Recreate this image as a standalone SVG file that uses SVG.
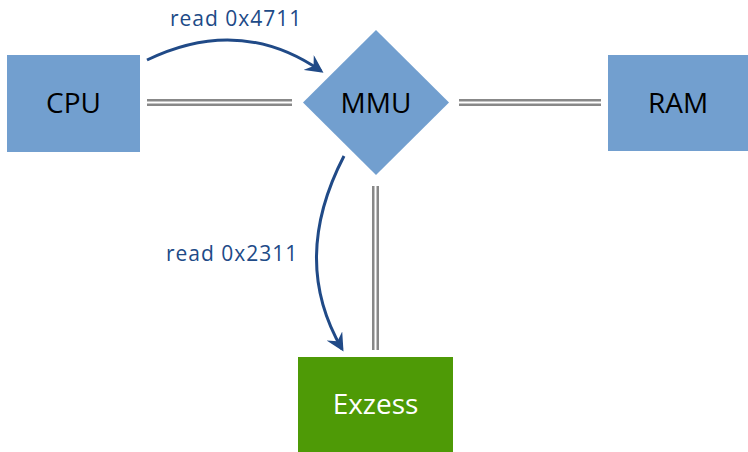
<svg xmlns="http://www.w3.org/2000/svg" width="748" height="452" viewBox="0 0 748 452">
<style>
.box{fill:#729fcf}
.green{fill:#4e9a06}
.lbl{font-family:"Open Sans","DejaVu Sans",sans-serif;font-size:28px;text-anchor:middle}
.elbl{font-family:"Open Sans","DejaVu Sans",sans-serif;font-size:21px;letter-spacing:1px;fill:#204a87}
.outer{stroke:#888888;stroke-width:7;fill:none}
.inner{stroke:#ffffff;stroke-width:2;fill:none}
.arr{stroke:#204a87;stroke-width:3;fill:none;marker-end:url(#ah)}
</style>
<defs>
<marker id="ah" viewBox="0 0 12 12" refX="10" refY="6" markerWidth="6" markerHeight="6" orient="auto" markerUnits="strokeWidth">
<path d="M0,0 L12,6 L0,12 L4,6 Z" fill="#204a87"/>
</marker>
</defs>
<rect width="748" height="452" fill="#ffffff"/>
<g id="connectors">
<path class="outer" d="M147,102.5 H292"/>
<path class="inner" d="M147,102.5 H292"/>
<path class="outer" d="M459,102.5 H601"/>
<path class="inner" d="M459,102.5 H601"/>
<path class="outer" d="M375.5,186 V350"/>
<path class="inner" d="M375.5,186 V350"/>
<path class="arr" d="M147,60 Q240,15 321,71"/>
<path class="arr" d="M344,156 Q290,260 342,349"/>
<text class="elbl" x="170" y="26">read 0x4711</text>
<text class="elbl" x="166" y="261">read 0x2311</text>
</g>
<g id="cpu">
<rect class="box" x="7" y="55" width="133" height="97"/>
<text class="lbl" x="73.5" y="113">CPU</text>
</g>
<g id="mmu">
<polygon class="box" points="376,30 449,102.5 376,175 303,102.5"/>
<text class="lbl" x="376" y="113">MMU</text>
</g>
<g id="ram">
<rect class="box" x="608" y="55" width="140" height="96"/>
<text class="lbl" x="678" y="113">RAM</text>
</g>
<g id="exzess">
<rect class="green" x="298" y="357" width="155" height="95"/>
<text class="lbl" x="375.5" y="414" fill="#ffffff">Exzess</text>
</g>
</svg>
